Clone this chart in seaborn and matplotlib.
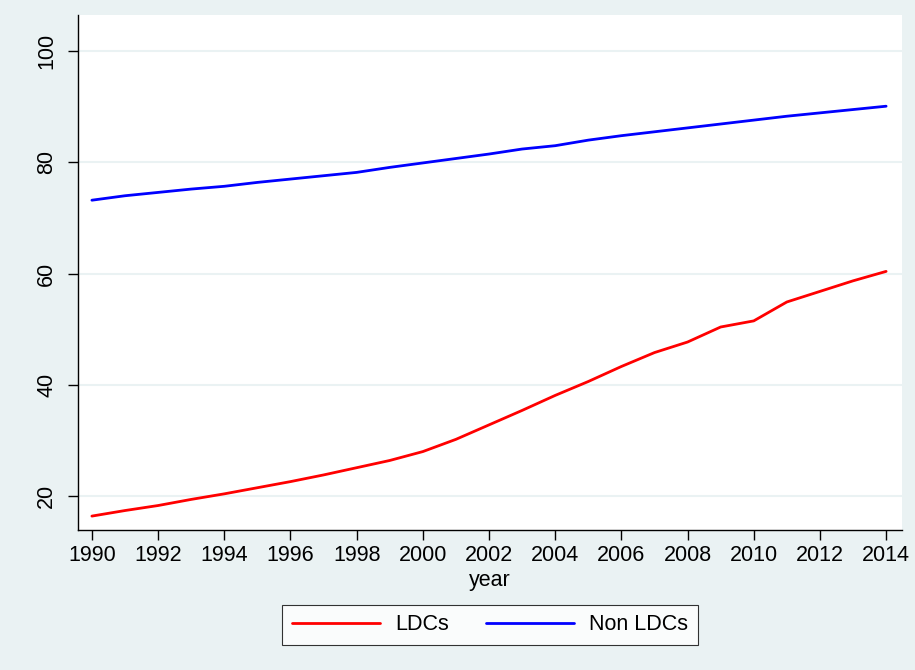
import pandas as pd
import matplotlib.pyplot as plt
import seaborn as sns

years = list(range(1990, 2015))
ldcs = [16.4, 17.4, 18.3, 19.4, 20.4, 21.5, 22.6, 23.8, 25.1, 26.4, 28.0, 30.2, 32.8,
        35.4, 38.1, 40.6, 43.3, 45.8, 47.7, 50.4, 51.5, 54.9, 56.8, 58.7, 60.4]
non_ldcs = [73.2, 74.0, 74.6, 75.2, 75.7, 76.4, 77.0, 77.6, 78.2, 79.1, 79.9, 80.7, 81.5,
            82.4, 83.0, 84.0, 84.8, 85.5, 86.2, 86.9, 87.6, 88.3, 88.9, 89.5, 90.1]
groups = ['LDCs', 'Non LDCs']
colors = ['#ff0000', '#0000ff']

df = pd.DataFrame({
    'year': years * 2,
    'value': ldcs + non_ldcs,
    'group': [groups[0]] * len(years) + [groups[1]] * len(years),
})

bg = '#eaf2f3'
sns.set_style('white')
plt.rcParams['font.family'] = ['Liberation Sans Narrow', 'Liberation Sans', 'DejaVu Sans']
plt.rcParams['text.color'] = 'black'

fig = plt.figure(figsize=(9.15, 6.7), dpi=100, facecolor=bg)
ax = fig.add_axes([78 / 915, 1 - 530 / 670, (902 - 78) / 915, (530 - 15) / 670])
ax.set_facecolor('white')

sns.lineplot(data=df, x='year', y='value', hue='group', palette=colors,
             linewidth=2, ax=ax, legend=False)

ax.set_xlim(1989.58, 2014.48)
ax.set_ylim(13.9, 106.5)
ax.set_xticks(range(1990, 2015, 2))
ax.set_yticks([20, 40, 60, 80, 100])
ax.yaxis.grid(True, color=bg, linewidth=1.5)
ax.set_axisbelow(True)
for s in ['top', 'right']:
    ax.spines[s].set_visible(False)
for s in ['left', 'bottom']:
    ax.spines[s].set_color('black')
    ax.spines[s].set_linewidth(1)
ax.tick_params(axis='both', direction='out', length=7, width=1, color='black',
               labelcolor='black', labelsize=15.5, left=True, bottom=True)
ax.tick_params(axis='y', pad=8)
for lab in ax.get_yticklabels():
    lab.set_rotation(90)
    lab.set_va('center')
ax.set_xlabel('year', fontsize=15.5, labelpad=3, color='black')
ax.set_ylabel('')

handles = [plt.Line2D([], [], color=c, linewidth=2) for c in colors]
leg = ax.legend(handles, groups, loc='upper center', bbox_to_anchor=(0.5, -0.145),
                borderaxespad=0, ncol=2, frameon=True, fancybox=False, fontsize=15.5,
                handlelength=4.1, handletextpad=0.7, columnspacing=1.7,
                borderpad=0.45, edgecolor='black')
leg.get_frame().set_linewidth(0.8)

fig.savefig('out.png', dpi=100, facecolor=bg)
